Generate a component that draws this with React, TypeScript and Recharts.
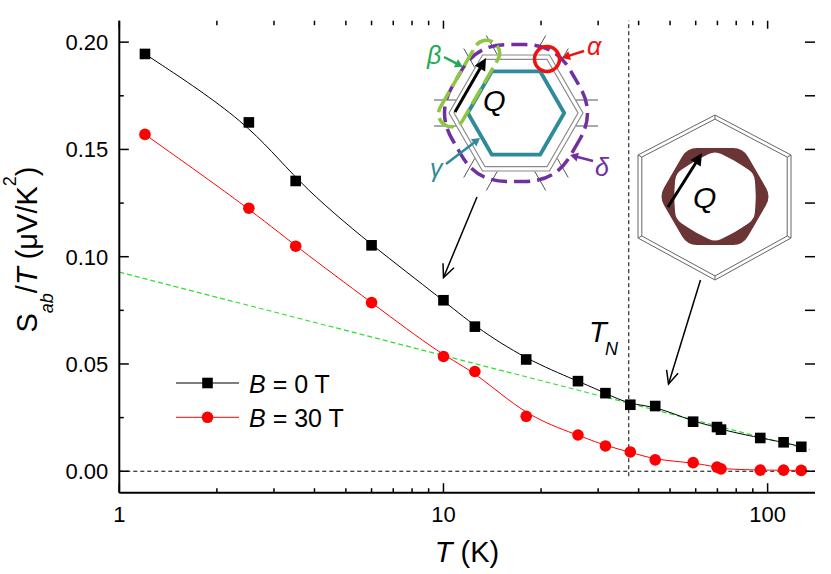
import React from 'react';
import { ComposedChart, Line, XAxis, YAxis, ReferenceLine, Legend, Customized } from 'recharts';

// ---- data ----
const temperatures = [1.2, 2.51, 3.5, 6.0, 10.0, 12.5, 18.0, 26.0, 31.6, 37.7, 45.0, 58.9, 69.8, 71.8, 94.9, 112, 127];
const seebeckB0 = [0.1945, 0.1626, 0.1353, 0.1053, 0.0797, 0.0674, 0.0521, 0.042, 0.0364, 0.031, 0.0304, 0.0231, 0.0206, 0.0194, 0.0155, 0.0135, 0.0114];
const seebeckB30 = [0.157, 0.1226, 0.1049, 0.0786, 0.0535, 0.0465, 0.0256, 0.0169, 0.0118, 0.009, 0.0053, 0.004, 0.0019, 0.0011, 0.0005, 0.0005, 0.0004];
const fitTemperatures = [1, 135];
const fitValues = [0.0928, 0.01];
const xMajorTicks = [1, 10, 100];
const xMinorTicks = [2, 3, 4, 5, 6, 7, 8, 9, 20, 30, 40, 50, 60, 70, 80, 90];
const yMajorTicks = [0, 0.05, 0.1, 0.15, 0.2];
const yMinorTicks = [0.025, 0.075, 0.125, 0.175];
const T_N = 37.3;

const rows = temperatures.map((t, i) => ({ T: t, b0: seebeckB0[i], b30: seebeckB30[i] }));
const fitRows = fitTemperatures.map((t, i) => ({ T: t, fit: fitValues[i] }));
const xAllTicks = [...xMajorTicks, ...xMinorTicks].sort((a, b) => a - b);
const yAllTicks = [...yMajorTicks, ...yMinorTicks].sort((a, b) => a - b);

const FONT = 'Liberation Sans, Arial, Helvetica, sans-serif';
const X_DOMAIN: [number, number] = [1, 140];
const Y_DOMAIN: [number, number] = [-0.01, 0.21];
const CHART_W = 831;
const CHART_H = 574;
const MARGIN = { top: 20.7, right: 16, bottom: 41.3, left: 39.3 };
const PLOT_TOP = MARGIN.top;
const PLOT_RIGHT = CHART_W - MARGIN.right;
const isMajor = (list: number[], v: number) => list.some((m) => Math.abs(m - v) < 1e-9);

// ---- axis tick renderers: inward tick marks (both frame sides) + labels ----
const BOTTOM_GAP = 14;
const LEFT_GAP = 11;
const BottomTick = (p: any) => {
  const { x, y, payload } = p;
  const ay = y - BOTTOM_GAP;
  const major = isMajor(xMajorTicks, payload.value);
  return (
    <g>
      <line x1={x} x2={x} y1={ay} y2={ay - (major ? 9.5 : 4.5)} stroke="#000" strokeWidth={1.5} />
      <line x1={x} x2={x} y1={PLOT_TOP} y2={PLOT_TOP + (major ? 8 : 4.5)} stroke="#000" strokeWidth={1.5} />
      {major && (
        <text x={x} y={ay + BOTTOM_GAP} dy="0.71em" textAnchor="middle" fontSize={22} fontFamily={FONT} fill="#000">
          {String(payload.value)}
        </text>
      )}
    </g>
  );
};
const LeftTick = (p: any) => {
  const { x, y, payload } = p;
  const ax = x + LEFT_GAP;
  const major = isMajor(yMajorTicks, payload.value);
  return (
    <g>
      <line x1={ax} x2={ax + (major ? 9.5 : 4.5)} y1={y} y2={y} stroke="#000" strokeWidth={1.5} />
      <line x1={PLOT_RIGHT} x2={PLOT_RIGHT - 10} y1={y} y2={y} stroke="#000" strokeWidth={1.5} />
      {major && (
        <text x={x} y={y} dy="0.355em" textAnchor="end" fontSize={22} fontFamily={FONT} fill="#000">
          {Number(payload.value).toFixed(2)}
        </text>
      )}
    </g>
  );
};

const SquareDot = (p: any) => {
  const { cx, cy, index } = p;
  if (cx == null || cy == null) return <g key={`s${index}`} />;
  return <rect key={`s${index}`} x={cx - 5.3} y={cy - 5.3} width={10.6} height={10.6} fill="#000" />;
};
const CircleDot = (p: any) => {
  const { cx, cy, index } = p;
  if (cx == null || cy == null) return <g key={`c${index}`} />;
  return <circle key={`c${index}`} cx={cx} cy={cy} r={5.8} fill="#ff0000" />;
};

// ---- decoration helpers (page coordinates) ----
type P = [number, number];
function hexPts(cx: number, cy: number, R: number, rotDeg: number): P[] {
  const out: P[] = [];
  for (let k = 0; k < 6; k++) {
    const a = ((rotDeg + k * 60) * Math.PI) / 180;
    out.push([cx + R * Math.cos(a), cy + R * Math.sin(a)]);
  }
  return out;
}
function polyStr(pts: P[]) {
  return pts.map((p) => `${p[0].toFixed(1)},${p[1].toFixed(1)}`).join(' ');
}
function roundedPath(pts: P[], d: number) {
  const n = pts.length;
  const seg = (a: P, b: P, dist: number): P => {
    const dx = b[0] - a[0], dy = b[1] - a[1];
    const l = Math.hypot(dx, dy);
    return [a[0] + (dx / l) * dist, a[1] + (dy / l) * dist];
  };
  let s = '';
  for (let i = 0; i <= n; i++) {
    const v = pts[i % n];
    const prev = pts[(i - 1 + n) % n];
    const next = pts[(i + 1) % n];
    const pa = seg(v, prev, d);
    const pb = seg(v, next, d);
    if (i === 0) s += `M${pb[0].toFixed(1)},${pb[1].toFixed(1)}`;
    else s += ` L${pa[0].toFixed(1)},${pa[1].toFixed(1)} Q${v[0].toFixed(1)},${v[1].toFixed(1)} ${pb[0].toFixed(1)},${pb[1].toFixed(1)}`;
  }
  return s + ' Z';
}
function Arrow({ x1, y1, x2, y2, color = '#000', w = 1.5, len = 12, hw = 5.5, open = false }: any) {
  const dx = x2 - x1, dy = y2 - y1;
  const l = Math.hypot(dx, dy);
  const ux = dx / l, uy = dy / l;
  const bx = x2 - ux * len, by = y2 - uy * len;
  const p1: P = [bx - uy * hw, by + ux * hw];
  const p2: P = [bx + uy * hw, by - ux * hw];
  if (open) {
    return (
      <g>
        <line x1={x1} y1={y1} x2={x2} y2={y2} stroke={color} strokeWidth={w} />
        <polyline points={polyStr([p1, [x2, y2], p2])} fill="none" stroke={color} strokeWidth={w} />
      </g>
    );
  }
  return (
    <g>
      <line x1={x1} y1={y1} x2={bx + ux * 2} y2={by + uy * 2} stroke={color} strokeWidth={w} />
      <polygon points={polyStr([p1, [x2, y2], p2])} fill={color} />
    </g>
  );
}

function Decorations() {
  const lc = { cx: 516, cy: 113 };
  const outerGray = hexPts(lc.cx, lc.cy, 67, 0);
  const innerGray = hexPts(lc.cx, lc.cy, 62, 0);
  const spokes: any[] = [];
  for (let k = 0; k < 6; k++) {
    const a = (k * 60 * Math.PI) / 180;
    const ux = Math.cos(a), uy = Math.sin(a);
    const nx = -uy, ny = ux;
    for (const s of [-13, 13]) {
      spokes.push(
        <line
          key={`sp${k}${s}`}
          x1={lc.cx + 60 * ux + s * nx}
          y1={lc.cy + 60 * uy + s * ny}
          x2={lc.cx + 82 * ux + s * nx}
          y2={lc.cy + 82 * uy + s * ny}
          stroke="#555"
          strokeWidth={1}
        />
      );
    }
  }
  // right inset
  const rc: P = [714.5, 197.5];
  const rOuter: P[] = [[715, 115], [791, 155], [791, 238], [715, 280], [638, 238], [638, 155]];
  const rInner: P[] = rOuter.map((p) => [rc[0] + 0.95 * (p[0] - rc[0]), rc[1] + 0.95 * (p[1] - rc[1])] as P);
  const ringOuter = hexPts(715, 196.5, 56, 0);
  const ringInnerPts: P[] = [];
  for (let k = 0; k < 12; k++) {
    const a = ((k * 30) * Math.PI) / 180;
    const r = k % 2 === 0 ? 41 : 45.5;
    ringInnerPts.push([715 + r * Math.cos(a), 196.5 + r * Math.sin(a)]);
  }
  return (
    <g fontFamily={FONT}>
      {/* left inset */}
      {spokes}
      <polygon points={polyStr(outerGray)} fill="none" stroke="#8a8a8a" strokeWidth={1.2} />
      <polygon points={polyStr(innerGray)} fill="none" stroke="#8a8a8a" strokeWidth={1.2} />
      <polygon points={polyStr(hexPts(lc.cx, lc.cy, 48.2, 0))} fill="none" stroke="#2f8a9c" strokeWidth={3.8} strokeLinejoin="round" />
      <path d={roundedPath(hexPts(lc.cx, lc.cy, 79, 0), 30)} fill="none" stroke="#7030a0" strokeWidth={3.5} strokeDasharray="16 7" />
      <rect x={469 - 48} y={83.5 - 13} width={96} height={26} rx={13} ry={13} transform="rotate(-60 469 83.5)" fill="none" stroke="#8dc63f" strokeWidth={3.5} strokeDasharray="18 6" />
      <circle cx={547} cy={59} r={12.5} fill="none" stroke="#ee1111" strokeWidth={3.5} />
      <Arrow x1={455} y1={112} x2={486} y2={58} w={3} len={12} hw={6} />
      <text x={483} y={111} fontSize={29} fontStyle="italic" fill="#000">Q</text>
      <text x={427} y={63.5} fontSize={25} fontStyle="italic" fill="#22aa55">β</text>
      <Arrow x1={444} y1={57} x2={463} y2={67} color="#22aa55" w={2.5} len={8} hw={4.5} />
      <text x={587} y={55} fontSize={25} fontStyle="italic" fill="#ee1111">α</text>
      <Arrow x1={584} y1={51} x2={562} y2={58} color="#ee1111" w={2.5} len={8} hw={4.5} />
      <text x={430} y={176.5} fontSize={25} fontStyle="italic" fill="#2f8a9c">γ</text>
      <Arrow x1={446} y1={164} x2={480} y2={138} color="#2f8a9c" w={2.5} len={8} hw={4.5} />
      <text x={595} y={176} fontSize={25} fontStyle="italic" fill="#7030a0">δ</text>
      <Arrow x1={593} y1={161} x2={570} y2={155} color="#7030a0" w={2.5} len={8} hw={4.5} />
      <Arrow x1={477} y1={197} x2={443.5} y2={277.5} w={1.5} len={13} hw={6} open />

      {/* right inset */}
      <polygon points={polyStr(rOuter)} fill="none" stroke="#666" strokeWidth={1} />
      <polygon points={polyStr(rInner)} fill="none" stroke="#666" strokeWidth={1} />
      {rOuter.map((p, i) => (
        <line key={`bv${i}`} x1={p[0]} y1={p[1]} x2={rInner[i][0]} y2={rInner[i][1]} stroke="#666" strokeWidth={1} />
      ))}
      <path d={roundedPath(ringOuter, 10)} fill="#6b3535" />
      <path d={roundedPath(ringInnerPts, 7)} fill="#fff" />
      <Arrow x1={668} y1={207} x2={702} y2={153} w={3} len={12} hw={6} />
      <text x={693} y={208} fontSize={30} fontStyle="italic" fill="#000">Q</text>
      <Arrow x1={700.5} y1={280} x2={668.5} y2={384} w={1.5} len={13} hw={6} open />

      {/* T_N label */}
      <text x={589} y={342} fontSize={29} fontStyle="italic" fill="#000">T</text>
      <text x={605} y={355} fontSize={18} fontStyle="italic" fill="#000">N</text>

      {/* axis titles */}
      <text x={467} y={561.5} fontSize={29} textAnchor="middle" fill="#000">
        <tspan fontStyle="italic">T</tspan>
        <tspan> (K)</tspan>
      </text>
      <text transform="rotate(-90)" x={-249.5} y={37} fontSize={29} textAnchor="middle" fill="#000">
        <tspan>S</tspan>
        <tspan fontSize={18} fontStyle="italic" dy={16}>ab</tspan>
        <tspan dy={-16}>/</tspan>
        <tspan fontStyle="italic">T</tspan>
        <tspan> (μV/K</tspan>
        <tspan fontSize={18} dy={-21}>2</tspan>
        <tspan dy={21}>)</tspan>
      </text>
    </g>
  );
}

function LegendBox() {
  // svg placed at page (168,363)
  return (
    <svg width={220} height={80} style={{ display: 'block', overflow: 'visible' }} fontFamily={FONT}>
      <line x1={8} y1={20} x2={71} y2={20} stroke="#000" strokeWidth={1} />
      <rect x={39.5 - 5.3} y={20 - 5.3} width={10.6} height={10.6} fill="#000" />
      <text x={81} y={29.7} fontSize={25} fill="#000">
        <tspan fontStyle="italic">B</tspan>
        <tspan> = 0 T</tspan>
      </text>
      <line x1={8} y1={54.3} x2={71} y2={54.3} stroke="#ff0000" strokeWidth={1} />
      <circle cx={39.5} cy={54.3} r={5.8} fill="#ff0000" />
      <text x={81} y={63.7} fontSize={25} fill="#000">
        <tspan fontStyle="italic">B</tspan>
        <tspan> = 30 T</tspan>
      </text>
    </svg>
  );
}

export default function App() {
  const xCommon: any = { type: 'number', scale: 'log', domain: X_DOMAIN, allowDataOverflow: true, interval: 0, stroke: '#000', ticks: xAllTicks, tickLine: false };
  const yCommon: any = { type: 'number', domain: Y_DOMAIN, allowDataOverflow: true, interval: 0, stroke: '#000', ticks: yAllTicks, tickLine: false };
  return (
    <div style={{ position: 'absolute', left: 0, top: 0, width: CHART_W, height: CHART_H }}>
      <ComposedChart width={CHART_W} height={CHART_H} margin={MARGIN}>
        <XAxis xAxisId="main" {...xCommon} dataKey="T" tickSize={0} tickMargin={BOTTOM_GAP} height={40}
          axisLine={{ strokeWidth: 2 }} tick={BottomTick} />
        <XAxis xAxisId="top" {...xCommon} orientation="top" height={0} tickSize={0} tickMargin={0}
          axisLine={{ strokeWidth: 2 }} tick={false} />
        <YAxis yAxisId="main" {...yCommon} tickSize={0} tickMargin={LEFT_GAP} width={80}
          axisLine={{ strokeWidth: 2 }} tick={LeftTick} />
        <YAxis yAxisId="right" {...yCommon} orientation="right" width={0} tickSize={0} tickMargin={0}
          axisLine={{ strokeWidth: 2 }} tick={false} />

        <ReferenceLine xAxisId="main" yAxisId="main" y={0} stroke="#000" strokeWidth={1} strokeDasharray="4 3" />
        <ReferenceLine xAxisId="main" yAxisId="main" segment={[{ x: T_N, y: -0.0023 }, { x: T_N, y: 0.21 }]} stroke="#000" strokeWidth={1} strokeDasharray="4 3" />

        <Line xAxisId="main" yAxisId="main" data={fitRows} dataKey="fit" type="linear" stroke="#2ee02e" strokeWidth={1.2} strokeDasharray="5 3" dot={false} activeDot={false} isAnimationActive={false} />
        <Line xAxisId="main" yAxisId="main" data={rows} dataKey="b30" type="basis" stroke="#ff0000" strokeWidth={1} dot={CircleDot} activeDot={false} isAnimationActive={false} />
        <Line xAxisId="main" yAxisId="main" data={rows} dataKey="b0" type="basis" stroke="#000" strokeWidth={1} dot={SquareDot} activeDot={false} isAnimationActive={false} />

        <Legend layout="vertical" align="center" verticalAlign="middle" content={() => <LegendBox />}
          wrapperStyle={{ position: 'absolute', left: 168, top: 363, width: 220, height: 80 }} />
        <Customized component={() => <Decorations />} />
      </ComposedChart>
    </div>
  );
}
